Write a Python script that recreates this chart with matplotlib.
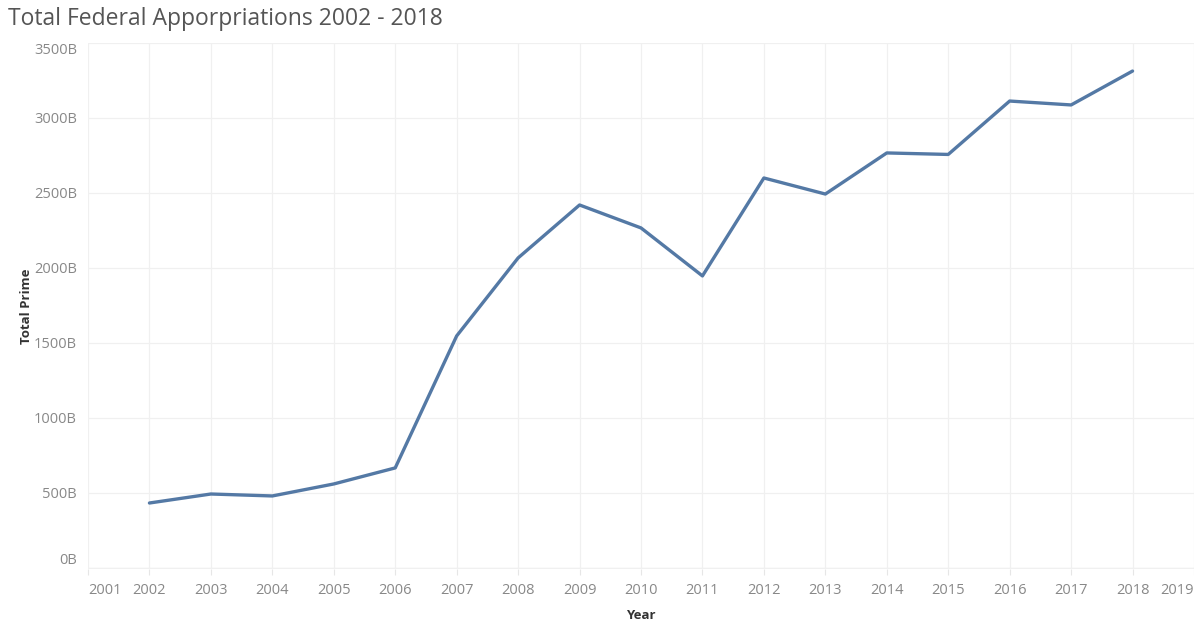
import matplotlib.pyplot as plt
import numpy as np

# Data
years = [2002, 2003, 2004, 2005, 2006, 2007, 2008, 2009, 2010,
         2011, 2012, 2013, 2014, 2015, 2016, 2017, 2018]
total_prime = [433, 493, 480, 560, 667, 1547, 2067, 2420, 2267,
               1947, 2600, 2493, 2767, 2757, 3113, 3087, 3313]
x_ticks = list(range(2001, 2020))
y_ticks = [0, 500, 1000, 1500, 2000, 2500, 3000, 3500]

plt.rcParams['font.family'] = ['Open Sans', 'DejaVu Sans']

fig = plt.figure(figsize=(11.94, 6.2), dpi=100)
ax = fig.add_axes([88/1194, 1-569/620, (1194-88)/1194, (569-43)/620])

ax.plot(years, total_prime, color='#5479a5', linewidth=2.4, solid_capstyle='round')

ax.set_xlim(2001, 2019)
ax.set_ylim(-7, 3500)

ax.set_xticks(x_ticks)
ax.set_xticklabels([str(y) for y in x_ticks])
ax.set_yticks(y_ticks)
ax.set_yticklabels([f'{v}B' for v in y_ticks])

# edge labels pushed inward
xl = ax.get_xticklabels()
xl[0].set_ha('left')
xl[-1].set_ha('right')
yl = ax.get_yticklabels()
yl[0].set_va('bottom')
yl[-1].set_va('top')

ax.tick_params(axis='x', colors='#e6e6e6', labelcolor='#888888', labelsize=10.5,
               length=4, width=0.8, pad=6)
ax.tick_params(axis='y', length=0, labelcolor='#888888', labelsize=10.5, pad=8)

ax.grid(True, color='#f0f0f0', linewidth=0.9)
ax.set_axisbelow(True)
for s in ['top', 'right', 'left', 'bottom']:
    ax.spines[s].set_visible(False)
ax.axhline(0, color='#ededed', linewidth=0.9, zorder=0)

ax.set_ylabel('Total Prime', fontsize=9.5, fontweight='bold', color='#333333', labelpad=1)
ax.set_xlabel('Year', fontsize=9.5, fontweight='bold', color='#333333', labelpad=8)

fig.text(8/1194, 1-19/620, 'Total Federal Apporpriations 2002 - 2018', fontsize=16.5,
         color='#555555', va='center', ha='left')

fig.savefig('out.png', dpi=100, facecolor='white')
